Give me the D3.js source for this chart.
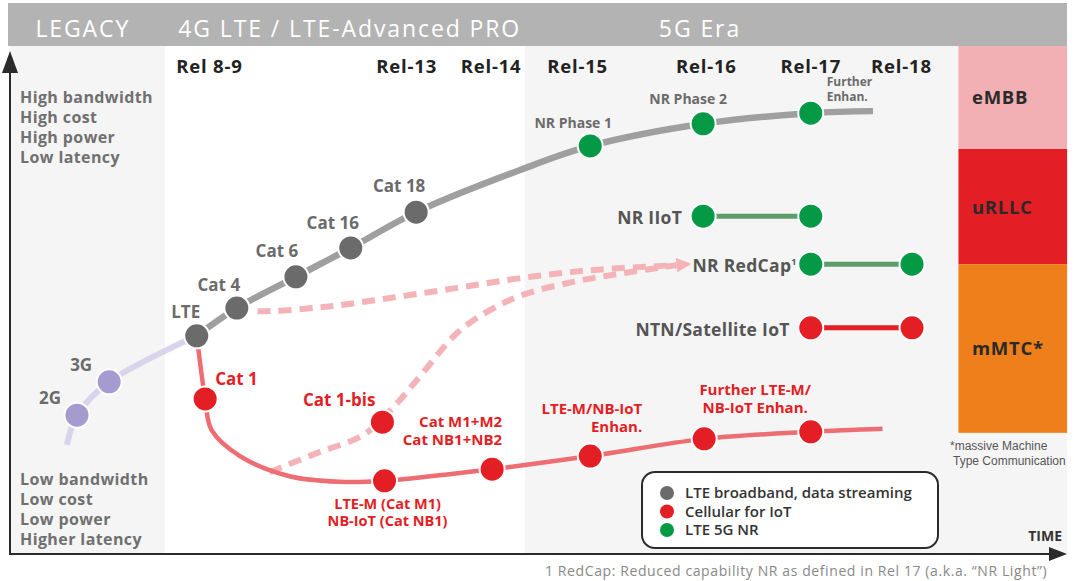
<!DOCTYPE html>
<meta charset="utf-8">
<style>
  body { margin: 0; background: #fff; }
  svg { font-family: "Open Sans", sans-serif; display: block; }
</style>
<svg width="1074" height="581"></svg>
<script src="https://d3js.org/d3.v7.min.js"></script>
<script>

// ---- data (time 0-100 along x, capability 0-100 along y) ----
var eras = ["LEGACY", "4G LTE / LTE-Advanced PRO", "5G Era"];
var eraStart = [0, 14.7, 48.8],
    eraEnd = [14.7, 48.8, 100.2],
    eraLabelT = [6.9, 32.2, 65.4];

var releases = ["Rel 8-9", "Rel-13", "Rel-14", "Rel-15", "Rel-16", "Rel-17", "Rel-18"];
var releaseT = [18.9, 37.6, 45.6, 53.8, 66.0, 75.9, 84.5];

var useCases = ["eMBB", "uRLLC", "mMTC*"];
var useCaseTop = [100.6, 80.0, 57.2],
    useCaseBottom = [80.0, 57.2, 23.8];

var traitsHigh = ["High bandwidth", "High cost", "High power", "Low latency"];
var traitsLow = ["Low bandwidth", "Low cost", "Low power", "Higher latency"];

var legacyNodes = [["2G", 6.35, 27.3], ["3G", 9.4, 33.9]];
var lteNodes = [["LTE", 17.7, 43.0], ["Cat 4", 21.5, 48.5], ["Cat 6", 27.1, 54.7],
                ["Cat 16", 32.3, 60.4], ["Cat 18", 38.5, 67.5]];
var nrNodes = [["NR Phase 1", 55.0, 80.6], ["NR Phase 2", 65.7, 85.0], ["Further|Enhan.", 75.9, 87.1]];
var iotNodes = [["Cat 1", 18.5, 30.5], ["Cat 1-bis", 35.3, 25.9],
                ["LTE-M (Cat M1)|NB-IoT (Cat NB1)", 35.5, 14.3],
                ["Cat M1+M2|Cat NB1+NB2", 45.7, 16.6],
                ["LTE-M/NB-IoT|Enhan.", 55.0, 19.2],
                ["Further LTE-M/|NB-IoT Enhan.", 65.8, 22.6],
                ["", 75.9, 24.0]];

// side tracks: name, start t, end t, level, kind
var tracks = [["NR IIoT", 65.7, 75.9, 66.7, "nr"],
              ["NR RedCap", 75.9, 85.5, 57.2, "nr"],
              ["NTN/Satellite IoT", 75.9, 85.5, 44.6, "iot"]];

var legacyPath = [[5.4, 21.4], [6.35, 27.3], [9.4, 33.9], [17.7, 43.0]];
var ltePath = [[17.7, 43.0], [21.5, 48.5], [27.1, 54.7], [32.3, 60.4], [38.5, 67.5],
               [48.3, 75.8], [55.0, 80.6], [65.7, 85.0], [75.9, 87.1], [81.8, 87.5]];
var iotPath = [[17.7, 43.0], [18.5, 30.5], [19.1, 24.4], [21.8, 19.2], [26.5, 15.2],
               [31.3, 14.1], [35.5, 14.3], [45.7, 16.6], [55.0, 19.2], [65.8, 22.6],
               [75.9, 24.0], [82.7, 24.6]];
var toRedCapA = [[21.5, 48.5], [23.4, 47.9], [29.7, 48.7], [36.0, 50.5], [42.4, 52.5],
                 [48.6, 54.5], [55.0, 56.0], [61.3, 56.8], [63.2, 57.0]];
var toRedCapB = [[24.6, 16.0], [29.1, 19.8], [33.5, 23.4], [36.7, 29.7], [39.1, 35.6],
                 [42.4, 43.6], [45.5, 48.1], [48.6, 51.1], [53.4, 53.7], [58.1, 55.4], [63.2, 57.0]];

var legendItems = ["LTE broadband, data streaming", "Cellular for IoT", "LTE 5G NR"];

// ---- drawing ----
var svg = d3.select("svg");
var x = d3.scaleLinear().domain([0, 100]).range([10, 1065]),
    y = d3.scaleLinear().domain([0, 100]).range([553, 48]);

var col = {
  lte: "#6b6b6b", lteLine: "#9f9f9f",
  legacy: "#a59bcf", legacyLine: "#d9d4ec",
  iot: "#e31e25", iotLine: "#ee6d72",
  nr: "#049a45", nrLine: "#5c9e6b",
  dash: "#f4b4b7"
};

var defs = svg.append("defs");
defs.append("marker").attr("id", "arr")
  .attr("viewBox", "0 0 10 10").attr("refX", 0).attr("refY", 5)
  .attr("markerWidth", 14).attr("markerHeight", 16)
  .attr("markerUnits", "userSpaceOnUse").attr("orient", "auto")
  .append("path").attr("d", "M0,0L10,5L0,10z").attr("fill", col.dash);

// era backgrounds
svg.selectAll(".era").data(eras).enter().append("rect")
  .attr("x", function(d, i) { return x(eraStart[i]); })
  .attr("width", function(d, i) { return x(eraEnd[i]) - x(eraStart[i]); })
  .attr("y", 46).attr("height", 553 - 46)
  .attr("fill", function(d, i) { return i == 1 ? "#ffffff" : "#f5f5f5"; });

// use case column
svg.selectAll(".uc").data(useCases).enter().append("rect")
  .attr("x", x(89.9)).attr("width", x(100.2) - x(89.9))
  .attr("y", function(d, i) { return y(useCaseTop[i]); })
  .attr("height", function(d, i) { return y(useCaseBottom[i]) - y(useCaseTop[i]); })
  .attr("fill", function(d, i) { return ["#f3b0b4", "#e31e25", "#ee7f1b"][i]; });
svg.selectAll(".ucl").data(useCases).enter().append("text")
  .attr("x", 972)
  .attr("y", function(d, i) { return (y(useCaseTop[i]) + y(useCaseBottom[i])) / 2 + 7; })
  .attr("font-size", 18.5).attr("font-weight", 700).attr("fill", "#2a2a2a")
  .attr("letter-spacing", 0.7)
  .text(function(d) { return d; });

// header
svg.append("rect").attr("x", 8).attr("y", 3).attr("width", 1059).attr("height", 43).attr("fill", "#b3b3b3");
svg.selectAll(".eral").data(eras).enter().append("text")
  .attr("x", function(d, i) { return x(eraLabelT[i]); }).attr("y", 37)
  .attr("text-anchor", "middle").attr("fill", "#fff")
  .attr("font-size", 23).attr("letter-spacing", 1.9)
  .text(function(d) { return d; });

// release labels
svg.selectAll(".rel").data(releases).enter().append("text")
  .attr("x", function(d, i) { return x(releaseT[i]); }).attr("y", 73)
  .attr("text-anchor", "middle").attr("fill", "#222")
  .attr("font-size", 18.5).attr("font-weight", 700).attr("letter-spacing", 0.8)
  .text(function(d) { return d; });

// traits
function traits(list, y0) {
  svg.append("g").selectAll("text").data(list).enter().append("text")
    .attr("x", 20).attr("y", function(d, i) { return y0 + i * 20; })
    .attr("font-size", 16).attr("font-weight", 700).attr("fill", "#707070")
    .attr("letter-spacing", 0.4)
    .text(function(d) { return d; });
}
traits(traitsHigh, 103);
traits(traitsLow, 485);

// axes
svg.append("line").attr("x1", 10).attr("y1", 554).attr("x2", 1052).attr("y2", 554)
  .attr("stroke", "#2b2b2b").attr("stroke-width", 2);
svg.append("path").attr("d", "M1049,547L1067,554L1049,561Z").attr("fill", "#2b2b2b");
svg.append("line").attr("x1", 10).attr("y1", 555).attr("x2", 10).attr("y2", 70)
  .attr("stroke", "#2b2b2b").attr("stroke-width", 2);
svg.append("path").attr("d", "M2,73L10,51L18,73Z").attr("fill", "#2b2b2b");
svg.append("text").attr("x", 1062).attr("y", 541).attr("text-anchor", "end")
  .attr("font-size", 14).attr("font-weight", 700).attr("fill", "#333").text("TIME");

// lines
var line = d3.line().x(function(d) { return x(d[0]); }).y(function(d) { return y(d[1]); })
  .curve(d3.curveCatmullRom.alpha(0.5));

function drawPath(pts, color, w, dash, marker) {
  var p = svg.append("path").attr("d", line(pts)).attr("fill", "none")
    .attr("stroke", color).attr("stroke-width", w);
  if (dash) p.attr("stroke-dasharray", dash);
  if (marker) p.attr("marker-end", "url(#arr)");
}
drawPath(toRedCapA, col.dash, 6, "13,8", true);
drawPath(toRedCapB, col.dash, 6, "13,8", true);
drawPath(legacyPath, col.legacyLine, 6, null);
drawPath(ltePath, col.lteLine, 6.5, null);
drawPath(iotPath, col.iotLine, 4.5, null);

tracks.forEach(function(d) {
  svg.append("line").attr("x1", x(d[1])).attr("x2", x(d[2]))
    .attr("y1", y(d[3])).attr("y2", y(d[3]))
    .attr("stroke", d[4] == "nr" ? col.nrLine : col.iot).attr("stroke-width", 5);
});

// nodes
function drawNodes(list, color) {
  svg.append("g").selectAll("circle").data(list).enter().append("circle")
    .attr("cx", function(d) { return x(d[1]); }).attr("cy", function(d) { return y(d[2]); })
    .attr("r", 12.5).attr("fill", color).attr("stroke", "#fff").attr("stroke-width", 2);
}
drawNodes(legacyNodes, col.legacy);
drawNodes(lteNodes, col.lte);
drawNodes(nrNodes, col.nr);
drawNodes(iotNodes, col.iot);
tracks.forEach(function(d) {
  var c = d[4] == "nr" ? col.nr : col.iot;
  drawNodes([[d[0], d[1], d[3]], [d[0], d[2], d[3]]], c);
});

// label layout: dx, dy, anchor, size, line height
var place = {
  "2G": [-27, -11, "middle", 17], "3G": [-28, -11, "middle", 17],
  "LTE": [-11, -18, "middle", 17], "Cat 4": [-18, -17, "middle", 17],
  "Cat 6": [-19, -20, "middle", 17], "Cat 16": [-18, -19, "middle", 17],
  "Cat 18": [-17, -20, "middle", 17],
  "NR Phase 1": [-17, -18, "middle", 14], "NR Phase 2": [-15, -20, "middle", 14],
  "Further|Enhan.": [16, -27, "start", 12, 15],
  "Cat 1": [10, -14, "start", 17], "Cat 1-bis": [-7, -16, "end", 17],
  "LTE-M (Cat M1)|NB-IoT (Cat NB1)": [3, 28, "middle", 14.5, 17],
  "Cat M1+M2|Cat NB1+NB2": [10, -42, "end", 15, 18],
  "LTE-M/NB-IoT|Enhan.": [52, -42, "end", 15, 18],
  "Further LTE-M/|NB-IoT Enhan.": [51, -44, "middle", 15, 18]
};

function drawLabels(list, color) {
  list.forEach(function(d) {
    if (!d[0]) return;
    var p = place[d[0]];
    var t = svg.append("text").attr("text-anchor", p[2]).attr("font-size", p[3])
      .attr("font-weight", 700).attr("fill", color);
    d[0].split("|").forEach(function(s, i) {
      t.append("tspan").attr("x", x(d[1]) + p[0]).attr("y", y(d[2]) + p[1] + i * (p[4] || 0)).text(s);
    });
  });
}
drawLabels(legacyNodes, "#6b6b6b");
drawLabels(lteNodes, "#6b6b6b");
drawLabels(nrNodes, "#6b6b6b");
drawLabels(iotNodes, col.iot);

// track labels
tracks.forEach(function(d, i) {
  var t = svg.append("text").attr("text-anchor", "end")
    .attr("x", x(d[1]) + (i == 1 ? -14 : -21)).attr("y", y(d[3]) + 8)
    .attr("font-size", 17.5).attr("font-weight", 700).attr("fill", "#555")
    .attr("letter-spacing", 0.3)
    .text(d[0]);
  if (i == 1) t.append("tspan").attr("font-size", 9).attr("dy", -7).text("1");
});

// legend
var lg = svg.append("g");
lg.append("rect").attr("x", 642).attr("y", 472).attr("width", 296).attr("height", 76)
  .attr("rx", 13).attr("fill", "#fff").attr("stroke", "#2b2b2b").attr("stroke-width", 2);
lg.selectAll("circle").data(legendItems).enter().append("circle")
  .attr("cx", 667).attr("cy", function(d, i) { return 493 + i * 18.5; }).attr("r", 7)
  .attr("fill", function(d, i) { return [col.lte, col.iot, col.nr][i]; });
lg.selectAll("text").data(legendItems).enter().append("text")
  .attr("x", 685).attr("y", function(d, i) { return 498 + i * 18.5; })
  .attr("font-size", 15).attr("font-weight", 600).attr("fill", "#333")
  .text(function(d) { return d; });

// footnotes
svg.append("text").attr("x", 950).attr("y", 450).attr("font-size", 12)
  .attr("font-family", "Liberation Sans, Arial, sans-serif").attr("fill", "#555")
  .text("*massive Machine");
svg.append("text").attr("x", 953).attr("y", 465).attr("font-size", 12)
  .attr("font-family", "Liberation Sans, Arial, sans-serif").attr("fill", "#555")
  .text("Type Communication");
svg.append("text").attr("x", 545).attr("y", 576).attr("font-size", 14)
  .attr("fill", "#888").attr("letter-spacing", 0.6)
  .text("1 RedCap: Reduced capability NR as defined in Rel 17 (a.k.a. \u201CNR Light\u201D)");

</script>
